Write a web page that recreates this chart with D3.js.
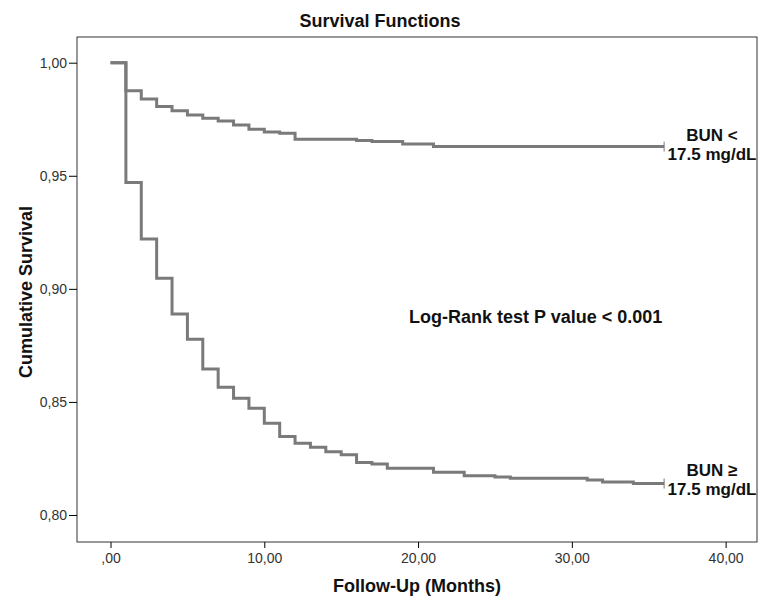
<!DOCTYPE html>
<html lang="en">
<head>
    <meta charset="UTF-8">
    <title>Survival Functions</title>
    <style>
        body {
            margin: 0;
            background: #fff;
            font-family: "Liberation Sans", Arial, sans-serif;
        }
        .tick text {
            font-size: 14px;
            fill: #333;
        }
    </style>
</head>
<body>
    <div id="chart"></div>

    <script src="https://d3js.org/d3.v7.min.js"></script>
    <script>
        // Kaplan-Meier steps (time in months, survival after the step)
        const lowTimes = [0, 1, 2, 3, 4, 5, 6, 7, 8, 9, 10, 11, 12, 16, 17, 19, 21];
        const lowSurv = [1.0, 0.9876, 0.9840, 0.9806, 0.9787, 0.9769, 0.9754, 0.9742, 0.9725, 0.9706, 0.9694, 0.9688, 0.9661, 0.9656, 0.9652, 0.9641, 0.9629];
        const highTimes = [0, 1, 2, 3, 4, 5, 6, 7, 8, 9, 10, 11, 12, 13, 14, 15, 16, 17, 18, 21, 23, 25, 26, 31, 32, 34];
        const highSurv = [1.0, 0.947, 0.922, 0.9047, 0.8889, 0.8777, 0.8646, 0.8565, 0.8516, 0.8472, 0.8406, 0.8347, 0.8317, 0.8300, 0.8280, 0.8266, 0.8232, 0.8225, 0.8207, 0.8189, 0.8174, 0.8168, 0.8163, 0.8155, 0.8146, 0.8139];
        const censorTime = 36;
        const groupLabels = [["BUN <", "17.5 mg/dL"], ["BUN \u2265", "17.5 mg/dL"]];
        const xTicks = [0, 10, 20, 30, 40];
        const yTicks = [0.80, 0.85, 0.90, 0.95, 1.00];

        const config = {
            width: 760, height: 601,
            left: 77, right: 757, top: 37, bottom: 542,
            lineColor: "#7a7a7a",
            strokeWidth: 3
        };

        const svg = d3.select("#chart").append("svg")
            .attr("width", config.width)
            .attr("height", config.height);

        const x = d3.scaleLinear().domain([-2.18, 42.04]).range([config.left, config.right]);
        const y = d3.scaleLinear().domain([0.78806, 1.01136]).range([config.bottom, config.top]);

        // comma decimals like SPSS output
        const fmt = d => d3.format(".2f")(d).replace(".", ",").replace(/^0,00$/, ",00");

        // frame
        svg.append("rect")
            .attr("x", config.left).attr("y", config.top)
            .attr("width", config.right - config.left)
            .attr("height", config.bottom - config.top)
            .style("fill", "none").style("stroke", "#333").style("stroke-width", 1);

        // axes
        const xAxis = svg.append("g")
            .attr("transform", `translate(0,${config.bottom})`)
            .call(d3.axisBottom(x).tickValues(xTicks).tickSize(6).tickPadding(5).tickFormat(fmt));
        const yAxis = svg.append("g")
            .attr("transform", `translate(${config.left},0)`)
            .call(d3.axisLeft(y).tickValues(yTicks).tickSize(8).tickPadding(2).tickFormat(fmt));
        [xAxis, yAxis].forEach(a => {
            a.select(".domain").remove();
            a.selectAll(".tick text").style("font-family", "'Liberation Sans', Arial, sans-serif");
        });

        // survival curves
        const line = d3.line()
            .curve(d3.curveStepAfter)
            .x(d => x(d[0]))
            .y(d => y(d[1]));

        const groups = [
            lowTimes.map((t, i) => [t, lowSurv[i]]),
            highTimes.map((t, i) => [t, highSurv[i]])
        ];
        groups.forEach(g => g.push([censorTime, g[g.length - 1][1]]));

        svg.selectAll(".km").data(groups).enter().append("path")
            .attr("class", "km")
            .attr("d", line)
            .style("fill", "none")
            .style("stroke", config.lineColor)
            .style("stroke-width", config.strokeWidth);

        // censor marks
        svg.selectAll(".censor").data(groups).enter().append("line")
            .attr("class", "censor")
            .attr("x1", d => x(censorTime)).attr("x2", d => x(censorTime))
            .attr("y1", d => y(d[d.length - 1][1]) - 5)
            .attr("y2", d => y(d[d.length - 1][1]) + 5)
            .style("stroke", config.lineColor).style("stroke-width", 1);

        // group labels
        const labelY = [141, 476];
        groupLabels.forEach((lines, i) => {
            const t = svg.append("text")
                .attr("x", 712).attr("y", labelY[i])
                .attr("text-anchor", "middle")
                .style("font-size", "17px").style("font-weight", "bold").style("fill", "#111");
            lines.forEach((s, j) => t.append("tspan").attr("x", 712).attr("dy", j ? 19 : 0).text(s));
        });

        svg.append("text")
            .attr("x", 409).attr("y", 323)
            .style("font-size", "18px").style("font-weight", "bold").style("fill", "#111")
            .text("Log-Rank test P value < 0.001");

        // titles
        svg.append("text")
            .attr("x", 380).attr("y", 27)
            .attr("text-anchor", "middle")
            .style("font-size", "18px").style("font-weight", "bold").style("fill", "#111")
            .text("Survival Functions");

        svg.append("text")
            .attr("x", 417).attr("y", 592)
            .attr("text-anchor", "middle")
            .style("font-size", "18px").style("font-weight", "bold").style("fill", "#111")
            .text("Follow-Up (Months)");

        svg.append("text")
            .attr("transform", "translate(32,292) rotate(-90)")
            .attr("text-anchor", "middle")
            .style("font-size", "18px").style("font-weight", "bold").style("fill", "#111")
            .text("Cumulative Survival");
    </script>
</body>
</html>
